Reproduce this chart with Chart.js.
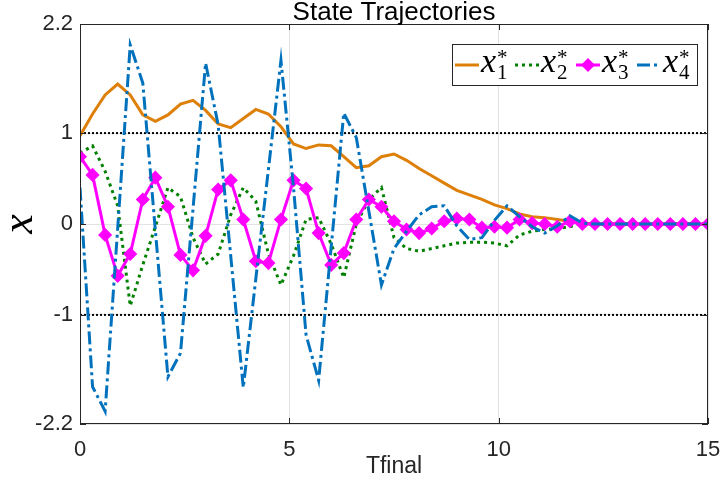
<!DOCTYPE html>
<html>
<head>
<meta charset="utf-8">
<script src="https://cdn.jsdelivr.net/npm/chart.js@4.4.0/dist/chart.umd.min.js"></script>
<style>
  html, body { margin: 0; padding: 0; background: #fff; }
  #wrap { width: 724px; height: 485px; }
</style>
</head>
<body>
<div id="wrap"><canvas id="trajChart" width="724" height="485"></canvas></div>
<script>
// Sample times (Tfinal)
const tValues = [0, 0.3, 0.6, 0.9, 1.2, 1.5, 1.8, 2.1, 2.4, 2.7, 3, 3.3, 3.6, 3.9, 4.2, 4.5, 4.8,
  5.1, 5.4, 5.7, 6, 6.3, 6.6, 6.9, 7.2, 7.5, 7.8, 8.1, 8.4, 8.7, 9, 9.3, 9.6, 9.9, 10.2, 10.5,
  10.8, 11.1, 11.4, 11.7, 12, 12.3, 12.6, 12.9, 13.2, 13.5, 13.8, 14.1, 14.4, 14.7, 15];

// State trajectories
const x1Values = [0.97, 1.21, 1.42, 1.54, 1.42, 1.20, 1.13, 1.20, 1.32, 1.36, 1.25, 1.10, 1.06,
  1.16, 1.26, 1.21, 1.07, 0.88, 0.83, 0.87, 0.86, 0.74, 0.62, 0.64, 0.74, 0.77, 0.70, 0.61, 0.53,
  0.45, 0.37, 0.32, 0.27, 0.21, 0.17, 0.11, 0.08, 0.07, 0.05, 0.03, 0.01, 0, 0, 0, 0, 0, 0, 0, 0, 0, 0];
const x2Values = [0.78, 0.86, 0.58, 0.20, -0.90, -0.45, -0.03, 0.40, 0.30, -0.15, -0.44, -0.33, 0.10,
  0.40, 0.25, -0.33, -0.67, -0.35, 0.05, 0.07, -0.22, -0.59, 0.0, 0.27, 0.40, -0.15, -0.27, -0.30,
  -0.27, -0.24, -0.21, -0.20, -0.20, -0.21, -0.24, -0.12, -0.08, -0.06, -0.05, -0.03, 0.01,
  0, 0, 0, 0, 0, 0, 0, 0, 0, 0];
const x3Values = [0.74, 0.54, -0.12, -0.57, -0.33, 0.27, 0.51, 0.19, -0.34, -0.51, -0.13, 0.38, 0.48,
  0.05, -0.41, -0.43, 0.05, 0.48, 0.39, -0.10, -0.45, -0.32, 0.05, 0.27, 0.19, 0.03, -0.06, -0.10,
  -0.05, 0.03, 0.06, 0.05, -0.04, -0.03, -0.04, 0.05, 0.01, 0, -0.03, 0.03, 0,
  0, 0, 0, 0, 0, 0, 0, 0, 0, 0];
const x4Values = [0.40, -1.79, -2.06, -0.05, 1.97, 1.55, -0.07, -1.68, -1.42, 0.17, 1.77, 1.09, -0.35,
  -1.80, -0.60, 0.60, 1.80, 0.40, -1.22, -1.72, -0.25, 1.22, 0.95, 0.14, -0.67, -0.27, -0.08, 0.10,
  0.19, 0.20, -0.02, -0.17, -0.15, 0.04, 0.20, 0.08, -0.03, -0.10, -0.02, 0.09, 0.01,
  0, 0, 0, 0, 0, 0, 0, 0, 0, 0];

const xTicks = [0, 5, 10, 15];
const yTicks = [-2.2, -1, 0, 1, 2.2];
const refLevels = [1, -1];
const xRange = [0, 15];
const legendSubs = ['1', '2', '3', '4'];
const chartTitle = 'State Trajectories';

const AXIS_COLOR = '#262626';
const SANS = '"Liberation Sans", Arial, sans-serif';

function toPoints(values) {
  return tValues.map((t, i) => ({ x: t, y: values[i] }));
}

const stateSets = [
  { label: 'x1*', data: toPoints(x1Values), borderColor: '#DE7F08', backgroundColor: '#DE7F08',
    borderWidth: 3, pointRadius: 0, order: 4 },
  { label: 'x2*', data: toPoints(x2Values), borderColor: '#008000', backgroundColor: '#008000',
    borderWidth: 3, borderDash: [3, 4], pointRadius: 0, order: 3 },
  { label: 'x3*', data: toPoints(x3Values), borderColor: '#FF00FF', backgroundColor: '#FF00FF',
    borderWidth: 3, pointStyle: 'rectRot', pointRadius: 6, pointBorderWidth: 1.5,
    pointBorderColor: '#FF00FF', pointBackgroundColor: '#FF00FF', order: 2 },
  { label: 'x4*', data: toPoints(x4Values), borderColor: '#0072BD', backgroundColor: '#0072BD',
    borderWidth: 3, borderDash: [13, 4, 3, 4], pointRadius: 0, order: 1 }
];

const refSets = refLevels.map(level => ({
  label: 'ref ' + level,
  data: xRange.map(x => ({ x: x, y: level })),
  borderColor: '#000',
  borderWidth: 2,
  borderDash: [2, 2],
  pointRadius: 0,
  order: 5
}));

// Box around the axes with inward ticks, plus the title centred on the axes
const framePlugin = {
  id: 'frame',
  afterDatasetsDraw(chart) {
    const { ctx, chartArea: a, scales: { x, y } } = chart;
    ctx.save();
    ctx.strokeStyle = AXIS_COLOR;
    ctx.lineWidth = 1;
    ctx.setLineDash([]);
    ctx.strokeRect(Math.round(a.left) + 0.5, Math.round(a.top) + 0.5,
      Math.round(a.width) - 1, Math.round(a.height) - 1);
    ctx.beginPath();
    xTicks.forEach(v => {
      const px = Math.round(x.getPixelForValue(v)) + 0.5;
      ctx.moveTo(px, a.bottom); ctx.lineTo(px, a.bottom - 6);
      ctx.moveTo(px, a.top); ctx.lineTo(px, a.top + 6);
    });
    yTicks.forEach(v => {
      const py = Math.round(y.getPixelForValue(v)) + 0.5;
      ctx.moveTo(a.left, py); ctx.lineTo(a.left + 6, py);
      ctx.moveTo(a.right, py); ctx.lineTo(a.right - 6, py);
    });
    ctx.stroke();

    ctx.fillStyle = '#000';
    ctx.font = '26px ' + SANS;
    ctx.textAlign = 'center';
    ctx.textBaseline = 'middle';
    ctx.fillText(chartTitle, (a.left + a.right) / 2, 13);
    ctx.restore();
  }
};

// Legend with sub/superscripts (x_i^*)
const texLegendPlugin = {
  id: 'texLegend',
  afterDraw(chart) {
    const ctx = chart.ctx;
    const box = { left: 452, top: 44, width: 245, height: 41 };
    const slots = [455, 515, 576, 637];
    const lineY = 65;
    ctx.save();
    ctx.fillStyle = '#fff';
    ctx.fillRect(box.left, box.top, box.width, box.height);
    ctx.strokeStyle = AXIS_COLOR;
    ctx.lineWidth = 1;
    ctx.strokeRect(box.left + 0.5, box.top + 0.5, box.width, box.height);

    stateSets.forEach((ds, i) => {
      const sx = slots[i];
      ctx.strokeStyle = ds.borderColor;
      ctx.lineWidth = 3;
      ctx.setLineDash(ds.borderDash || []);
      ctx.beginPath();
      ctx.moveTo(sx, lineY);
      ctx.lineTo(sx + 24, lineY);
      ctx.stroke();
      ctx.setLineDash([]);
      if (ds.pointStyle === 'rectRot') {
        const cx = sx + 12, r = 7;
        ctx.fillStyle = ds.borderColor;
        ctx.beginPath();
        ctx.moveTo(cx, lineY - r); ctx.lineTo(cx + r, lineY);
        ctx.lineTo(cx, lineY + r); ctx.lineTo(cx - r, lineY);
        ctx.closePath();
        ctx.fill();
      }
      const tx = sx + 26;
      ctx.fillStyle = '#000';
      ctx.textBaseline = 'alphabetic';
      ctx.textAlign = 'left';
      ctx.font = 'italic 34px "Liberation Serif"';
      ctx.fillText('x', tx, 72);
      const w = ctx.measureText('x').width;
      ctx.font = '21px "Liberation Serif"';
      ctx.fillText(legendSubs[i], tx + w + 1, 79);
      ctx.fillText('*', tx + w + 1, 64);
    });
    ctx.restore();
  }
};

const ctx = document.getElementById('trajChart').getContext('2d');
new Chart(ctx, {
  type: 'line',
  data: { datasets: [...refSets, ...stateSets] },
  options: {
    responsive: false,
    animation: false,
    devicePixelRatio: 1,
    layout: { padding: { top: 24, right: 16, bottom: 0, left: 0 } },
    plugins: {
      legend: { display: false },
      tooltip: { enabled: false },
      title: { display: false }
    },
    elements: { line: { tension: 0, borderCapStyle: 'butt' } },
    scales: {
      x: {
        type: 'linear',
        min: 0,
        max: 15,
        ticks: {
          stepSize: 5,
          padding: 13,
          color: AXIS_COLOR,
          font: { family: SANS, size: 22 },
          maxRotation: 0
        },
        grid: { color: '#e2e2e2', lineWidth: 1, drawTicks: false },
        border: { display: false },
        title: {
          display: true,
          text: 'Tfinal',
          color: AXIS_COLOR,
          font: { family: SANS, size: 23 },
          padding: { top: 0, bottom: 5 }
        },
        afterFit(scale) {
          scale.height = 61;
          scale.paddingLeft = 0;
          scale.paddingRight = 0;
        }
      },
      y: {
        type: 'linear',
        min: -2.2,
        max: 2.2,
        afterBuildTicks(scale) { scale.ticks = yTicks.map(v => ({ value: v })); },
        ticks: {
          padding: 7,
          color: AXIS_COLOR,
          font: { family: SANS, size: 22 },
          callback: v => String(v)
        },
        grid: { color: '#e2e2e2', lineWidth: 1, drawTicks: false },
        border: { display: false },
        title: {
          display: true,
          text: 'x',
          color: '#000',
          font: { family: '"Liberation Serif", serif', size: 44, style: 'italic', lineHeight: 0.9 },
          padding: { top: 1, bottom: 0 }
        },
        afterFit(scale) { scale.width = 80; }
      }
    }
  },
  plugins: [framePlugin, texLegendPlugin]
});
</script>
</body>
</html>
